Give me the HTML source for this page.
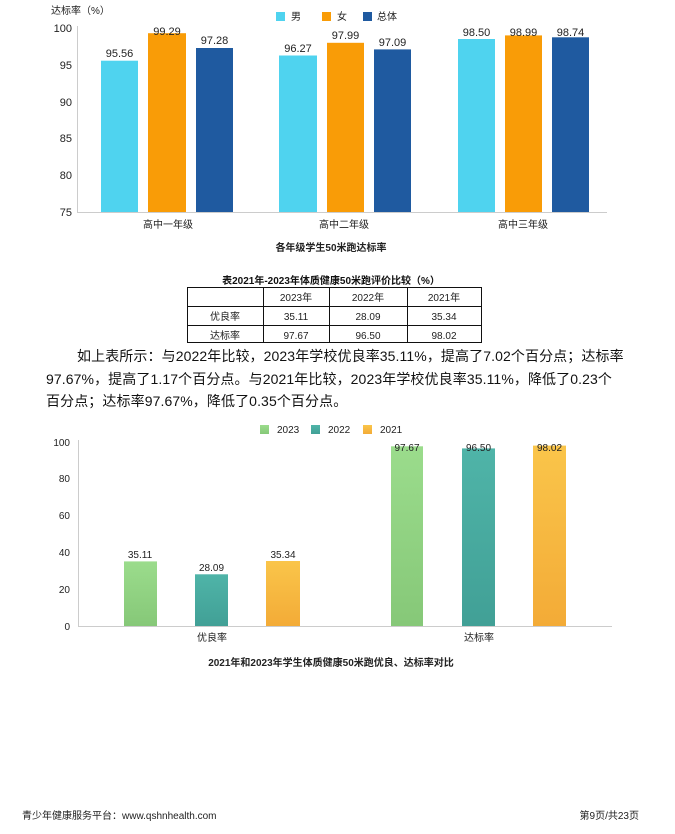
<!DOCTYPE html>
<html><head><meta charset="utf-8"><style>
body{margin:0;width:675px;height:834px;background:#fff;overflow:hidden;font-family:"Liberation Sans","Noto Sans CJK SC",sans-serif;}
svg{position:absolute;left:0;top:0}
.p{position:absolute;font-size:14px;color:#111;white-space:nowrap;letter-spacing:0.1px}
</style></head><body>
<svg width="675" height="834" font-family="Liberation Sans, Noto Sans CJK SC, sans-serif">
<defs>
<linearGradient id="g1" x1="0" y1="0" x2="0" y2="1"><stop offset="0" stop-color="#9bdc8c"/><stop offset="1" stop-color="#86c878"/></linearGradient>
<linearGradient id="g2" x1="0" y1="0" x2="0" y2="1"><stop offset="0" stop-color="#4fb4a8"/><stop offset="1" stop-color="#41a096"/></linearGradient>
<linearGradient id="g3" x1="0" y1="0" x2="0" y2="1"><stop offset="0" stop-color="#fac54a"/><stop offset="1" stop-color="#f3ab37"/></linearGradient>
</defs>
<!-- chart 1 -->
<text x="51" y="14" font-size="10" fill="#222">达标率（%）</text>
<rect x="276" y="12" width="9" height="9" fill="#4fd3ef"/><text x="291" y="20" font-size="10" fill="#222">男</text>
<rect x="322" y="12" width="9" height="9" fill="#f99c07"/><text x="337" y="20" font-size="10" fill="#222">女</text>
<rect x="363" y="12" width="9" height="9" fill="#1f5aa0"/><text x="377" y="20" font-size="10" fill="#222">总体</text>
<line x1="77.5" y1="26" x2="77.5" y2="212" stroke="#ccc"/>
<line x1="77" y1="212.5" x2="607" y2="212.5" stroke="#ccc"/>
<g font-size="11" fill="#222" text-anchor="end">
<text x="72" y="32">100</text><text x="72" y="69">95</text><text x="72" y="106">90</text><text x="72" y="142">85</text><text x="72" y="179">80</text><text x="72" y="216">75</text>
</g>
<g>
<rect x="101" y="60.7" width="37" height="151.3" fill="#4fd3ef"/>
<rect x="148" y="33.2" width="38" height="178.8" fill="#f99c07"/>
<rect x="196" y="48" width="37" height="164" fill="#1f5aa0"/>
<rect x="279" y="55.5" width="38" height="156.5" fill="#4fd3ef"/>
<rect x="327" y="42.8" width="37" height="169.2" fill="#f99c07"/>
<rect x="374" y="49.4" width="37" height="162.6" fill="#1f5aa0"/>
<rect x="458" y="39" width="37" height="173" fill="#4fd3ef"/>
<rect x="505" y="35.4" width="37" height="176.6" fill="#f99c07"/>
<rect x="552" y="37.3" width="37" height="174.7" fill="#1f5aa0"/>
</g>
<g font-size="11" fill="#222" text-anchor="middle">
<text x="119.5" y="57">95.56</text><text x="167" y="35">99.29</text><text x="214.5" y="44">97.28</text>
<text x="298" y="52">96.27</text><text x="345.5" y="39">97.99</text><text x="392.5" y="46">97.09</text>
<text x="476.5" y="36">98.50</text><text x="523.5" y="36">98.99</text><text x="570.5" y="36">98.74</text>
<text x="168" y="228" font-size="10">高中一年级</text><text x="344" y="228" font-size="10">高中二年级</text><text x="523" y="228" font-size="10">高中三年级</text>
<text x="331" y="251" font-size="10" font-weight="bold">各年级学生50米跑达标率</text>
</g>
<!-- table -->
<text x="331" y="284" font-size="10" font-weight="bold" text-anchor="middle" fill="#111">表2021年-2023年体质健康50米跑评价比较（%）</text>
<g stroke="#111" stroke-width="1" fill="none">
<rect x="187.5" y="287.5" width="294" height="55"/>
<line x1="187" y1="306.5" x2="482" y2="306.5"/><line x1="187" y1="325.5" x2="482" y2="325.5"/>
<line x1="263.5" y1="287" x2="263.5" y2="343"/><line x1="329.5" y1="287" x2="329.5" y2="343"/><line x1="407.5" y1="287" x2="407.5" y2="343"/>
</g>
<g font-size="10" fill="#222" text-anchor="middle">
<text x="296" y="301">2023年</text><text x="368" y="301">2022年</text><text x="444" y="301">2021年</text>
<text x="225" y="320">优良率</text><text x="296" y="320">35.11</text><text x="368" y="320">28.09</text><text x="444" y="320">35.34</text>
<text x="225" y="339">达标率</text><text x="296" y="339">97.67</text><text x="368" y="339">96.50</text><text x="444" y="339">98.02</text>
</g>
<!-- chart 2 -->
<rect x="260" y="425" width="9" height="9" fill="url(#g1)"/><text x="277" y="433" font-size="10" fill="#222">2023</text>
<rect x="311" y="425" width="9" height="9" fill="url(#g2)"/><text x="328" y="433" font-size="10" fill="#222">2022</text>
<rect x="363" y="425" width="9" height="9" fill="url(#g3)"/><text x="380" y="433" font-size="10" fill="#222">2021</text>
<line x1="78.5" y1="440" x2="78.5" y2="626" stroke="#ccc"/>
<line x1="78" y1="626.5" x2="612" y2="626.5" stroke="#ccc"/>
<g font-size="10" fill="#222" text-anchor="end">
<text x="70" y="446">100</text><text x="70" y="482">80</text><text x="70" y="519">60</text><text x="70" y="556">40</text><text x="70" y="593">20</text><text x="70" y="630">0</text>
</g>
<rect x="124" y="561.4" width="33" height="64.6" fill="url(#g1)"/>
<rect x="195" y="574.3" width="33" height="51.7" fill="url(#g2)"/>
<rect x="266" y="561" width="34" height="65" fill="url(#g3)"/>
<rect x="391" y="446.3" width="32" height="179.7" fill="url(#g1)"/>
<rect x="462" y="448.4" width="33" height="177.6" fill="url(#g2)"/>
<rect x="533" y="445.6" width="33" height="180.4" fill="url(#g3)"/>
<g font-size="10" fill="#222" text-anchor="middle">
<text x="140" y="558">35.11</text><text x="211.5" y="571">28.09</text><text x="283" y="558">35.34</text>
<text x="407" y="451">97.67</text><text x="478.5" y="451">96.50</text><text x="549.5" y="451">98.02</text>
<text x="212" y="641">优良率</text><text x="479" y="641">达标率</text>
<text x="331" y="666" font-weight="bold">2021年和2023年学生体质健康50米跑优良、达标率对比</text>
</g>
<!-- footer -->
<text x="22" y="819" font-size="10" fill="#222">青少年健康服务平台：www.qshnhealth.com</text>
<text x="639" y="819" font-size="10" fill="#222" text-anchor="end">第9页/共23页</text>
</svg>
<div class="p" style="left:77px;top:346px">如上表所示：与2022年比较，2023年学校优良率35.11%，提高了7.02个百分点；达标率</div>
<div class="p" style="left:46px;top:369px">97.67%，提高了1.17个百分点。与2021年比较，2023年学校优良率35.11%，降低了0.23个</div>
<div class="p" style="left:46px;top:391px">百分点；达标率97.67%，降低了0.35个百分点。</div>
</body></html>
